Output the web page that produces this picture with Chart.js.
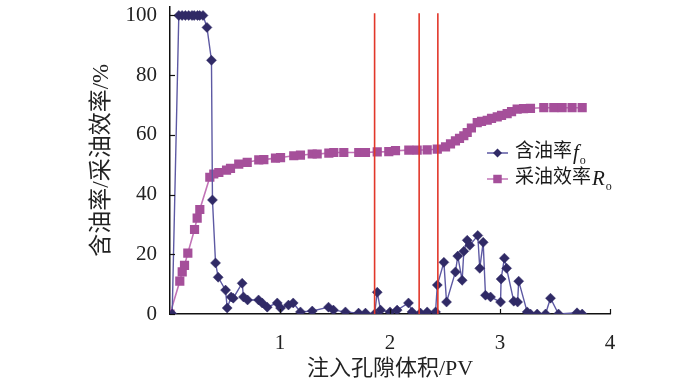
<!DOCTYPE html>
<html>
<head>
<meta charset="utf-8">
<script src="https://cdn.jsdelivr.net/npm/chart.js@4.4.1/dist/chart.umd.min.js"></script>
<style>
  html, body { margin: 0; padding: 0; background: #fff; }
  #wrap { width: 700px; height: 389px; position: relative; }
</style>
</head>
<body>
<div id="wrap"><canvas id="chart"></canvas></div>
<script>
// 含油率 fo：注入孔隙体积 (PV) 与数值 (%)
const foX = [0.02, 0.08, 0.11, 0.14, 0.17, 0.20, 0.22, 0.25, 0.27, 0.30, 0.336, 0.377, 0.386,
  0.414, 0.438, 0.505, 0.52, 0.556, 0.575, 0.656, 0.668, 0.705, 0.805, 0.838, 0.884, 0.975,
  1.005, 1.077, 1.12, 1.186, 1.293, 1.441, 1.486, 1.595, 1.714, 1.777, 1.86, 1.884, 1.914,
  2.0, 2.065, 2.168, 2.2, 2.277, 2.338, 2.414, 2.43, 2.49, 2.514, 2.595, 2.616, 2.656, 2.671,
  2.702, 2.725, 2.798, 2.816, 2.847, 2.868, 2.914, 3.005, 3.01, 3.04, 3.06, 3.125, 3.16, 3.17,
  3.247, 3.277, 3.338, 3.414, 3.459, 3.532, 3.70, 3.747];
const foY = [0, 100, 100, 100, 100, 100, 100, 100, 100, 100, 96, 85, 38.2,
  17.1, 12.3, 8, 2, 5.7, 5.3, 10.3, 5.7, 4.7, 4.7, 3.7, 2.3, 3.7,
  2, 3, 3.7, 0.7, 1, 2.3, 1.3, 0.7, 0.3, 0.3, 0, 7.3, 1.3,
  0.7, 1.3, 3.7, 0.7, 0.3, 0.7, 0.7, 9.7, 17.3, 4, 14.1, 19.4, 11.3, 21,
  24.7, 23, 26.3, 15.3, 24, 6.3, 5.7, 4, 11.7, 18.7, 15.3, 4.3, 4, 11,
  0.7, 0, 0, 0, 5.3, 0, 0.4, 0];

// 采油效率 Ro
const roX = [0, 0.089, 0.111, 0.132, 0.162, 0.223, 0.247, 0.271, 0.362, 0.398, 0.444, 0.514,
  0.55, 0.625, 0.702, 0.807, 0.853, 0.959, 1.005, 1.125, 1.186, 1.293, 1.338, 1.444, 1.489,
  1.58, 1.716, 1.777, 1.884, 1.989, 2.05, 2.171, 2.247, 2.338, 2.43, 2.505, 2.55, 2.595,
  2.632, 2.671, 2.702, 2.74, 2.793, 2.832, 2.884, 2.923, 2.975, 3.014, 3.065, 3.105, 3.156,
  3.214, 3.277, 3.398, 3.489, 3.565, 3.655, 3.747];
const roY = [0, 11, 14.1, 16.3, 20.4, 28.3, 32.1, 35, 45.8, 46.9, 47.4, 48.2,
  48.8, 50.2, 50.8, 51.6, 51.7, 52.2, 52.4, 53, 53.2, 53.6, 53.6, 53.9, 54.1,
  54.1, 54.1, 54.1, 54.3, 54.4, 54.7, 54.9, 54.9, 55, 55.2, 56, 57, 58,
  58.8, 59.7, 60.8, 62.3, 64.1, 64.5, 64.9, 65.5, 66, 66.5, 67.1, 67.8, 68.6,
  68.8, 68.9, 69.1, 69.1, 69.1, 69.1, 69.1];

// 红色竖线位置 (PV)
const redLines = [1.86, 2.265, 2.435];

const xTicks = [1, 2, 3, 4];
const yTicks = [0, 20, 40, 60, 80, 100];

const serif = '"Liberation Serif", "Noto Sans CJK SC", serif';
const navyLine = '#5d59a3', navyMark = '#302a66';
const pinkLine = '#c274b7', pinkMark = '#a54f9a';

const toPts = (xs, ys) => xs.map((x, i) => ({ x: x, y: ys[i] }));

// 刻度线朝内
const innerTicks = {
  id: 'innerTicks',
  afterDraw(chart) {
    const { ctx, scales: { x, y } } = chart;
    ctx.save();
    ctx.strokeStyle = '#111';
    ctx.lineWidth = 1.2;
    yTicks.forEach(v => {
      const py = Math.round(y.getPixelForValue(v)) + 0.5;
      ctx.beginPath(); ctx.moveTo(x.left, py); ctx.lineTo(x.left + 5, py); ctx.stroke();
    });
    xTicks.forEach(v => {
      const px = Math.round(x.getPixelForValue(v)) + 0.5;
      ctx.beginPath(); ctx.moveTo(px, y.bottom); ctx.lineTo(px, y.bottom - 5); ctx.stroke();
    });
    ctx.restore();
  }
};

// 图例（斜体 f、R 与下标 o）
const legendBox = {
  id: 'legendBox',
  afterDraw(chart) {
    const ctx = chart.ctx;
    const rows = [
      { y: 153, name: '含油率', sym: 'f', line: navyLine, mark: navyMark, style: 'rectRot', r: 4.5 },
      { y: 179, name: '采油效率', sym: 'R', line: pinkLine, mark: pinkMark, style: 'rect', r: 6 }
    ];
    ctx.save();
    rows.forEach(row => {
      ctx.strokeStyle = row.line;
      ctx.lineWidth = 1.5;
      ctx.beginPath(); ctx.moveTo(487, row.y); ctx.lineTo(508, row.y); ctx.stroke();
      ctx.fillStyle = row.mark;
      ctx.strokeStyle = row.mark;
      Chart.helpers.drawPoint(ctx, { pointStyle: row.style, radius: row.r, borderWidth: 0 }, 497.5, row.y);
      ctx.fillStyle = '#1a1a1a';
      ctx.textBaseline = 'middle';
      ctx.font = '19px ' + serif;
      ctx.fillText(row.name, 515, row.y - 1);
      let px = 515 + ctx.measureText(row.name).width + 1;
      ctx.font = 'italic 21px "Liberation Serif", serif';
      ctx.fillText(row.sym, px, row.y);
      px += ctx.measureText(row.sym).width + 1;
      ctx.font = '12px "Liberation Serif", serif';
      ctx.fillText('o', px, row.y + 8);
    });
    ctx.restore();
  }
};

const datasets = [
  {
    label: '含油率fo',
    data: toPts(foX, foY),
    borderColor: navyLine,
    borderWidth: 1.4,
    pointStyle: 'rectRot',
    pointRadius: 5,
    pointBackgroundColor: navyMark,
    pointBorderColor: navyMark,
    pointBorderWidth: 0.5,
    tension: 0,
    order: 1
  },
  {
    label: '采油效率Ro',
    data: toPts(roX, roY),
    borderColor: pinkLine,
    borderWidth: 1.6,
    pointStyle: 'rect',
    pointRadius: 6.5,
    pointBackgroundColor: pinkMark,
    pointBorderColor: pinkMark,
    pointBorderWidth: 0,
    tension: 0,
    order: 2
  }
];
redLines.forEach(v => {
  datasets.push({
    label: 'line',
    data: [{ x: v, y: 0 }, { x: v, y: 100.7 }],
    borderColor: '#e2372a',
    borderWidth: 1.6,
    pointRadius: 0,
    order: 0
  });
});

new Chart(document.getElementById('chart'), {
  type: 'line',
  data: { datasets: datasets },
  plugins: [innerTicks, legendBox],
  options: {
    responsive: true,
    maintainAspectRatio: false,
    animation: false,
    events: [],
    layout: { padding: { top: 6, right: 90, bottom: 0, left: 0 } },
    plugins: { legend: { display: false }, tooltip: { enabled: false } },
    scales: {
      x: {
        type: 'linear',
        min: 0,
        max: 4,
        grid: { display: false },
        border: { display: true, color: '#111', width: 1.5 },
        afterBuildTicks: s => { s.ticks = xTicks.map(v => ({ value: v })); },
        afterFit: s => { s.height = 75; s.paddingLeft = 0; s.paddingRight = 0; },
        ticks: { padding: 9, color: '#222', font: { family: serif, size: 21 } },
        title: {
          display: true,
          text: '注入孔隙体积/PV',
          color: '#222',
          font: { family: serif, size: 22 },
          padding: { top: 0, bottom: 7 }
        }
      },
      y: {
        min: 0,
        max: 103,
        grid: { display: false },
        border: { display: true, color: '#111', width: 1.5 },
        afterBuildTicks: s => { s.ticks = yTicks.map(v => ({ value: v })); },
        afterFit: s => { s.width = 170; s.paddingTop = 0; s.paddingBottom = 0; },
        ticks: { padding: 5, color: '#222', font: { family: serif, size: 21 } },
        title: {
          display: true,
          text: '含油率/采油效率/%',
          color: '#222',
          font: { family: serif, size: 23 },
          padding: { top: 88, bottom: 0 }
        }
      }
    }
  }
});
</script>
</body>
</html>
